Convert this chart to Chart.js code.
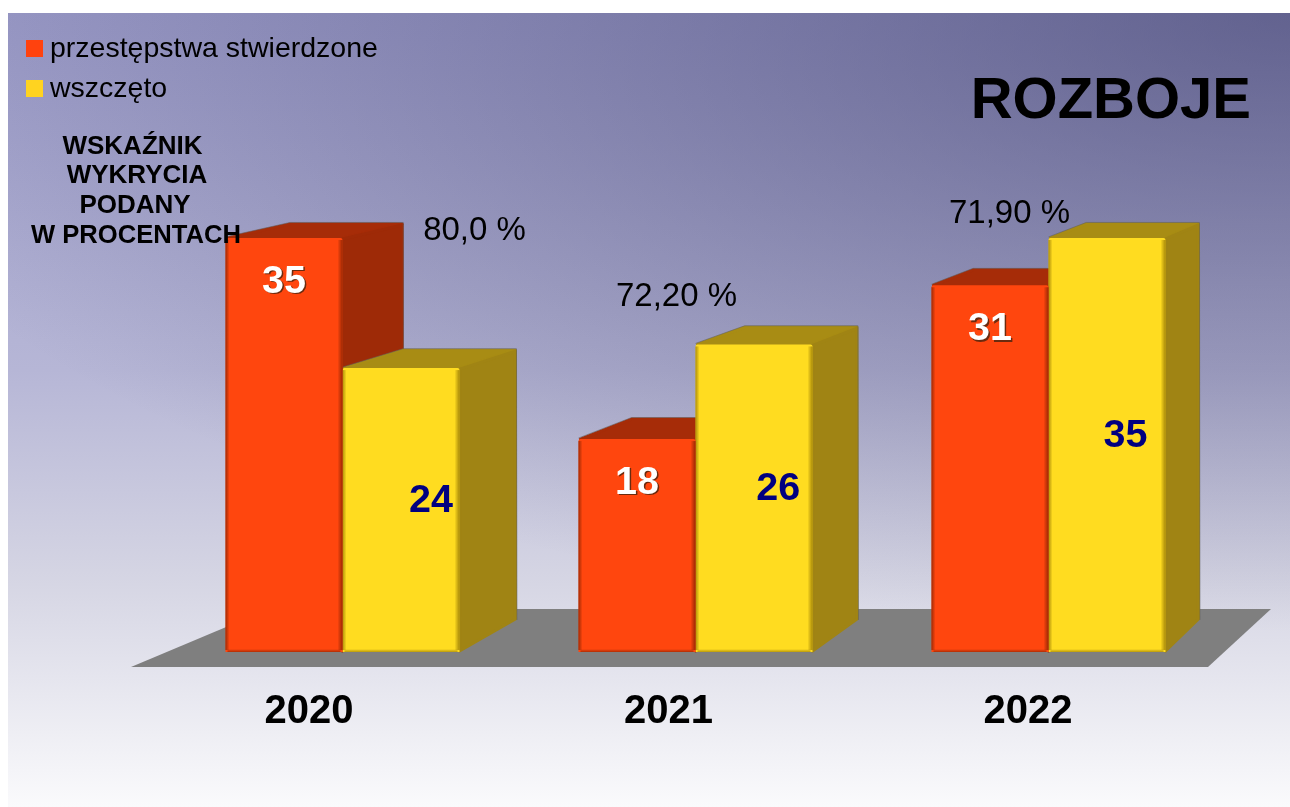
<!DOCTYPE html>
<html lang="pl">
<head>
<meta charset="utf-8">
<title>ROZBOJE</title>
<style>
html,body{margin:0;padding:0;background:#fff;width:1290px;height:807px;overflow:hidden}
#bg{position:absolute;left:8px;top:13px;width:1282px;height:794px;
background:
 radial-gradient(ellipse 1500px 620px at 100% 0,rgba(50,50,95,.55),rgba(50,50,95,0)),
 linear-gradient(180deg,#9d9dca 0%,#b6b6d6 45%,#d6d6e4 72%,#fafafc 100%);}
canvas{position:absolute;left:0;top:0;display:block}
</style>
<script src="https://cdn.jsdelivr.net/npm/chart.js@4"></script>
</head>
<body>
<div id="bg"></div>
<canvas id="c" width="1290" height="807"></canvas>
<script>
const years = ['2020','2021','2022'];
const stwierdzone = [35,18,31];
const wszczeto = [24,26,35];
const detectionRates = ['80,0 %','72,20 %','71,90 %'];
const noteLines = ['WSKAŹNIK','WYKRYCIA','PODANY','W PROCENTACH'];
const seriesNames = ['przestępstwa stwierdzone','wszczęto'];
const chartTitle = 'ROZBOJE';

const FONT = '"Liberation Sans", Arial, sans-serif';
const depthX = x => 0.0326*(2207-x);
const depthY = y => 0.03*(y+262);
const shade = [{side:'#9e2a07',top:'#a62c08',edge:'120,30,0'},{side:'#a08414',top:'#a88c14',edge:'140,110,0'}];
const tickShift = [-33.5,-27,-20.5];

const scene = {
  id:'scene',
  afterLayout(chart){
    const t = chart.titleBlock;
    if(t){ t.right += 26; }
  },
  beforeDatasetsDraw(chart){
    const c = chart.ctx;
    const base = chart.scales.y.getPixelForValue(0);
    c.save();
    c.fillStyle = '#7f7f7f';
    c.beginPath();
    c.moveTo(131,base+15);c.lineTo(1208,base+15);c.lineTo(1271,base-43);c.lineTo(269,base-43);
    c.closePath();c.fill();
    chart.data.datasets.forEach((ds,i)=>{
      const s = shade[i];
      chart.getDatasetMeta(i).data.forEach(b=>{
        const l=b.x-b.width/2,r=b.x+b.width/2,t=b.y,bt=b.base;
        const dt=depthY(t),db=32,dl=depthX(l),dr=depthX(r);
        c.lineJoin='round';c.lineWidth=3;
        c.fillStyle=c.strokeStyle=s.top;
        c.beginPath();c.moveTo(l+2,t);c.lineTo(l+dl,t-dt+1);c.lineTo(r+dr-1,t-dt+1);c.lineTo(r,t);c.closePath();c.fill();c.stroke();
        c.fillStyle=c.strokeStyle=s.side;
        c.beginPath();c.moveTo(r,t+1);c.lineTo(r+dr-1,t-dt+2);c.lineTo(r+dr-1,bt-db-1);c.lineTo(r,bt-1);c.closePath();c.fill();c.stroke();
        c.lineWidth=1;c.strokeStyle='rgba(95,95,95,.55)';
        c.beginPath();c.moveTo(l,t-1);c.lineTo(l+dl,t-dt-.5);c.lineTo(r+dr,t-dt-.5);c.lineTo(r+dr+.5,bt-db);c.stroke();
      });
    });
    c.restore();
  },
  afterDatasetDraw(chart,args){
    const c = chart.ctx, s = shade[args.index];
    c.save();
    args.meta.data.forEach(b=>{
      const l=b.x-b.width/2,r=b.x+b.width/2,t=b.y,bt=b.base;
      let g=c.createLinearGradient(l,0,l+4,0);
      g.addColorStop(0,`rgba(${s.edge},.7)`);g.addColorStop(1,`rgba(${s.edge},0)`);
      c.fillStyle=g;c.fillRect(l,t+2,4,bt-t-4);
      g=c.createLinearGradient(r-5,0,r,0);
      g.addColorStop(0,`rgba(${s.edge},0)`);g.addColorStop(1,`rgba(${s.edge},.75)`);
      c.fillStyle=g;c.fillRect(r-5,t+2,5,bt-t-4);
      g=c.createLinearGradient(0,bt-3,0,bt);
      g.addColorStop(0,`rgba(${s.edge},0)`);g.addColorStop(1,`rgba(${s.edge},.6)`);
      c.fillStyle=g;c.fillRect(l+2,bt-3,r-l-4,3);
    });
    c.restore();
  },
  afterDatasetsDraw(chart){
    const c = chart.ctx;
    c.save();
    c.textAlign='center';c.textBaseline='middle';
    // value labels
    chart.getDatasetMeta(0).data.forEach((b,i)=>{
      c.font='bold 39.5px '+FONT;
      c.fillStyle='rgba(90,40,15,.9)';
      c.fillText(String(stwierdzone[i]),b.x+1.5,b.y+45.5);
      c.fillStyle='#ffffff';
      c.fillText(String(stwierdzone[i]),b.x,b.y+44);
    });
    chart.getDatasetMeta(1).data.forEach((b,i)=>{
      c.font='bold 39.5px '+FONT;
      c.fillStyle='#000080';
      c.fillText(String(wszczeto[i]),b.x+depthX(b.x+b.width/2)/2+1.5,(b.y+b.base)/2-9);
    });
    // detection rates
    c.fillStyle='#000';
    c.font='33px '+FONT;
    const ratePos=[[474.5,231],[676.5,297],[1009.5,214]];
    detectionRates.forEach((t,i)=>c.fillText(t,ratePos[i][0],ratePos[i][1]));
    // note
    const noteX=[132.5,137,135,136], noteY=[147,176,206,236];
    noteLines.forEach((t,i)=>{
      c.font='bold '+(i===3?25.6:26)+'px '+FONT;
      c.fillText(t,noteX[i],noteY[i]);
    });
    // legend
    c.textAlign='left';
    c.font='28.5px '+FONT;
    chart.data.datasets.forEach((ds,i)=>{
      const y=48.5+i*40;
      c.fillStyle=i===0?'#ff420e':'#ffd320';
      c.fillRect(26,y-8.5,17,17);
      c.fillStyle='#000';
      c.fillText(ds.label,50,y+1);
    });
    c.restore();
  }
};

new Chart(document.getElementById('c'),{
  type:'bar',
  data:{labels:years,datasets:[
    {label:seriesNames[0],data:stwierdzone,backgroundColor:'#ff460e',borderWidth:0,borderRadius:2},
    {label:seriesNames[1],data:wszczeto,backgroundColor:'#ffdc20',borderWidth:0,borderRadius:2}
  ]},
  plugins:[scene],
  options:{
    responsive:false,animation:false,
    layout:{padding:{left:166,right:65,top:0,bottom:0}},
    categoryPercentage:0.663,barPercentage:1,
    plugins:{
      legend:{display:false},tooltip:{enabled:false},
      title:{display:true,text:chartTitle,align:'end',color:'#000',
        font:{family:FONT,size:58,weight:'bold',lineHeight:1.2},
        padding:{top:67,bottom:42.2}}
    },
    scales:{
      y:{display:false,min:0,max:40},
      x:{grid:{display:false,drawTicks:false},border:{display:false},
        afterFit(s){s.height=155;},
        afterDataLimits(s){
          const base=Object.getPrototypeOf(s).getPixelForTick;
          s.getPixelForTick=function(i){return base.call(this,i)+tickShift[i];};
        },
        ticks:{color:'#000',padding:36,font:{family:FONT,size:40,weight:'bold',lineHeight:1.2},maxRotation:0}}
    }
  }
});
</script>
</body>
</html>
